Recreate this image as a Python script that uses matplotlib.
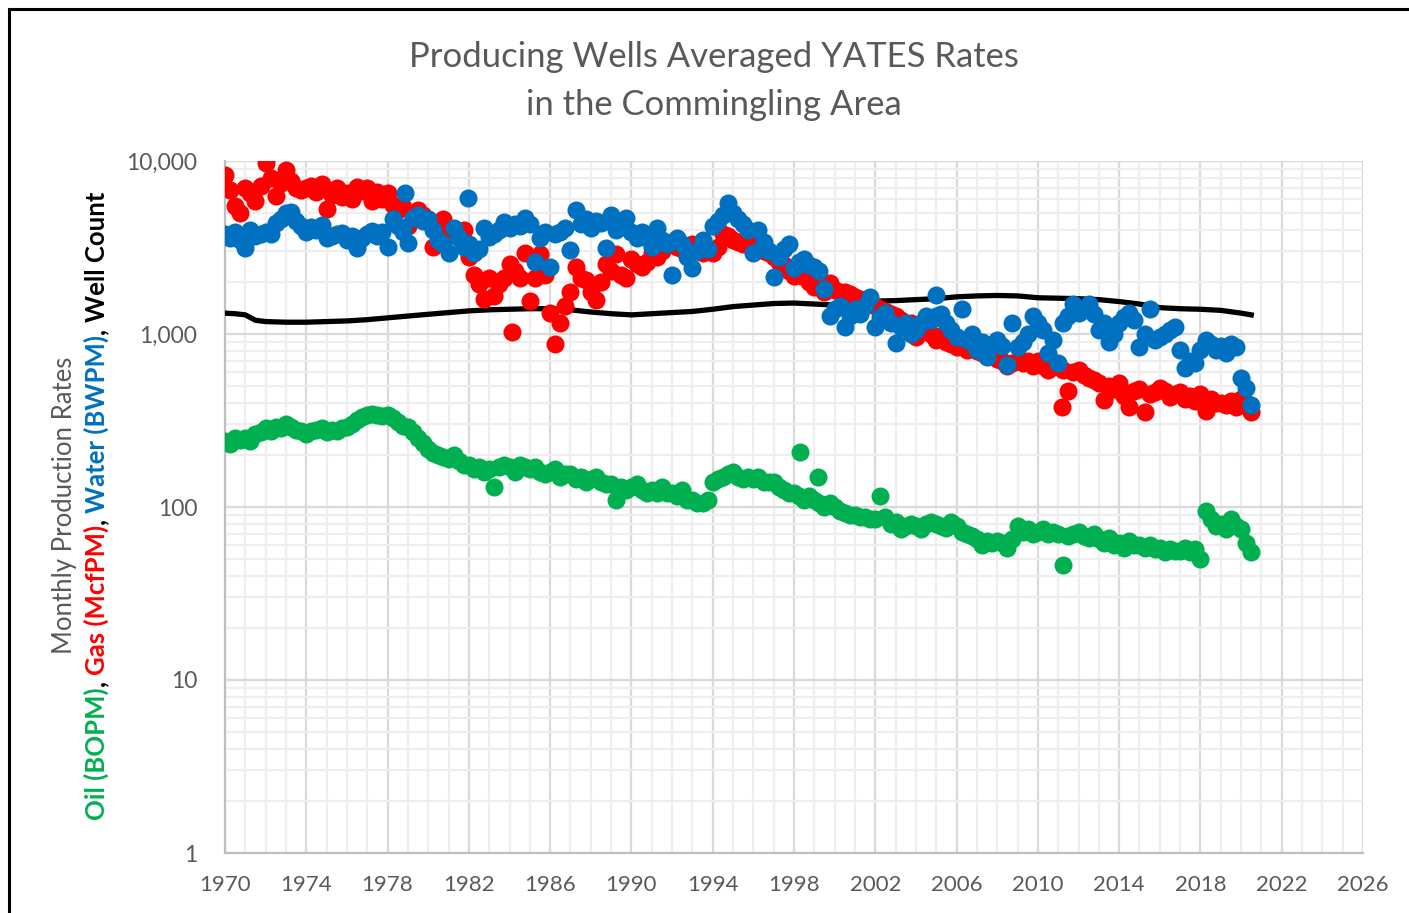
import numpy as np
import matplotlib.pyplot as plt
import matplotlib as mpl
from matplotlib.ticker import FixedLocator, FuncFormatter
from matplotlib.lines import Line2D

params = {
    'font.family': ['Lato', 'DejaVu Sans'],
    'font.size': 15,
    'xtick.labelsize': 16,
    'ytick.labelsize': 16.5,
    'figure.figsize': [14.09, 9.13],
    'figure.dpi': 100,
}
mpl.rcParams.update(params)

GRAY = '#595959'
C_OIL = '#00B050'
C_GAS = '#FF0000'
C_WATER = '#0070C0'

# quarterly sample dates (1970.0 ... 2020.5)
quarters = np.arange(1970.0, 2020.51, 0.25)

gas = [
    8300, 6800, 5500, 5000,  7000, 6500, 5900, 7200,  9800, 8000, 6300, 7500,
    8900, 7700, 7000, 6800,  7000, 7200, 6600, 7400,  5300, 6400, 7000, 6200,
    6500, 6000, 7100, 6700,  7000, 5900, 6600, 6000,  6500, 5600, 5200, 5400,
    4200, 5000, 5200, 4900,  4600, 3200, 4100, 4600,  4100, 3900, 3800, 4000,
    2800, 2200, 1950, 1600,  2100, 1650, 1950, 2100,  2550, 2300, 2100, 2950,
    1550, 2100, 2900, 2200,  1330, 870, 1150, 1450,   1750, 2450, 2100, 2050,
    1750, 1570, 2000, 2550,  2300, 2900, 2200, 2100,  2700, 2550, 2450, 2600,
    2950, 2800, 3000, 3300,  3400, 3200, 3100, 3000,  3300, 3000, 2950, 3100,
    2950, 3200, 3800, 3700,  3500, 3400, 3300, 3300,  3200, 3100, 3000, 2950,
    2800, 2600, 2500, 2300,  2150, 2200, 2140, 2000,  1860, 1900, 1750, 1970,
    1800, 1750, 1740, 1700,  1640, 1600, 1500, 1550,  1450, 1400, 1350, 1300,
    1270, 1200, 1100, 1150,  960, 1050, 1050, 1000,   920, 980, 900, 880,
    840, 900, 810, 830,      800, 780, 760, 750,      720, 700, 650, 680,
    700, 680, 700, 650,      700, 650, 620, 680,      650, 620, 470, 600,
    620, 580, 560, 540,      520, 415, 500, 480,      520, 440, 380, 470,
    480, 355, 450, 460,      490, 470, 430, 450,      460, 420, 440, 410,
    450, 360, 420, 400,      400, 390, 410, 380,      420, 400, 355,
]

water = [
    3800, 3600, 3900, 3500,  3150, 4000, 3700, 3800,  3900, 3800, 4400, 4600,
    5000, 5100, 4500, 4200,  3900, 4150, 4000, 4250,  3600, 3700, 3800, 3850,
    3500, 3700, 3150, 3600,  3800, 3950, 3700, 3900,  3200, 4600, 4200, 3900,
    3350, 4700, 4900, 4500,  4600, 4000, 3500, 3300,  2950, 4100, 3600, 3200,
    3300, 2950, 3100, 4100,  3650, 3800, 4000, 4450,  4100, 4300, 4200, 4700,
    4300, 2620, 3600, 3900,  2450, 3800, 3900, 4100,  3060, 5200, 4300, 4600,
    4100, 4500, 4400, 3150,  4900, 4000, 4200, 4700,  3900, 3600, 3900, 3600,
    3200, 4100, 3500, 3300,  2200, 3600, 3300, 2800,  2400, 3000, 3500, 3100,
    4200, 4500, 4900, 5700,  5000, 4600, 4300, 4000,  2950, 4000, 3400, 3000,
    2140, 2800, 3100, 3300,  2400, 2600, 2700, 2500,  2450, 2300, 1830, 1270,
    1390, 1450, 1100, 1270,  1390, 1300, 1450, 1640,  1100, 1250, 1330, 1150,
    890, 1100, 1150, 1000,   1050, 1150, 1270, 1200,  1270, 1300, 1150, 1050,
    960, 1390, 920, 1000,    810, 900, 740, 880,      920, 850, 660, 1150,
    840, 900, 1000, 1270,    1150, 1050, 780, 920,    680, 1150, 1270, 1500,
    1330, 1400, 1500, 1300,  1050, 1150, 900, 1000,   1150, 1250, 1330, 1200,
    840, 1000, 1400, 920,    960, 1000, 1050, 1100,   810, 640, 700, 680,
    810, 920, 870, 810,      850, 780, 870, 840,      560, 490, 390,
]

oil = [
    240, 230, 250, 245,  250, 240, 265, 270,  285, 275, 290, 285,
    300, 290, 280, 275,  265, 275, 280, 285,  270, 280, 275, 285,
    290, 300, 320, 330,  340, 345, 340, 335,  340, 325, 310, 295,
    290, 270, 250, 235,  215, 205, 200, 195,  190, 200, 185, 175,
    175, 165, 170, 160,  165, 130, 170, 175,  170, 160, 175, 170,
    165, 170, 160, 155,  160, 165, 150, 155,  155, 145, 150, 140,
    145, 150, 140, 135,  135, 110, 130, 125,  130, 135, 125, 120,
    125, 120, 130, 120,  120, 115, 125, 110,  110, 105, 105, 110,
    140, 145, 150, 155,  160, 150, 145, 150,  145, 150, 140, 140,
    140, 130, 125, 120,  120, 115, 110, 115,  110, 105, 100, 105,
    100, 95, 92, 90,     90, 88, 87, 85,      85, 115, 88, 80,
    82, 75, 78, 80,      78, 75, 80, 82,      80, 78, 76, 82,
    78, 72, 70, 68,      65, 60, 64, 62,      64, 62, 58, 65,
    78, 72, 75, 70,      72, 75, 70, 72,      70, 46, 68, 70,
    72, 68, 66, 70,      65, 62, 66, 60,      62, 58, 64, 60,
    60, 58, 60, 57,      58, 55, 57, 56,      56, 58, 55, 57,
    50, 95, 85, 78,      80, 75, 85, 78,      75, 62, 55,
]

# odd single months that stand off the trend
gas_extra_yr = [1984.1, 2011.2]
gas_extra = [1030, 380]
water_extra_yr = [1978.85, 1981.95, 2005.0]
water_extra = [6500, 6100, 1680]
oil_extra_yr = [1998.3, 1999.2]
oil_extra = [208, 150]

well_yr = [1970, 1970.5, 1971, 1971.5, 1972, 1973, 1974, 1975, 1976, 1977, 1978,
           1979, 1980, 1981, 1982, 1983, 1984, 1985, 1986, 1987, 1988, 1989,
           1990, 1991, 1992, 1993, 1994, 1995, 1996, 1997, 1998, 1999, 2000,
           2001, 2002, 2003, 2004, 2005, 2006, 2007, 2008, 2009, 2010, 2011,
           2012, 2013, 2014, 2015, 2016, 2017, 2018, 2019, 2020, 2020.5]
well_count = [1320, 1310, 1290, 1200, 1180, 1170, 1170, 1180, 1190, 1210, 1240,
              1270, 1300, 1330, 1360, 1380, 1390, 1400, 1400, 1380, 1340, 1310,
              1290, 1310, 1330, 1350, 1390, 1440, 1470, 1500, 1510, 1490, 1470,
              1500, 1550, 1560, 1580, 1600, 1640, 1660, 1670, 1660, 1620, 1610,
              1600, 1580, 1540, 1490, 1420, 1400, 1390, 1370, 1320, 1290]

x_ticks = list(range(1970, 2027, 4))
y_ticks = [1, 10, 100, 1000, 10000]

fig = plt.figure()
ax = fig.add_axes([225 / 1409, 1 - 853 / 913, (1363 - 225) / 1409, (853 - 161) / 913])

ms = 13
ax.plot(well_yr, well_count, color='black', lw=3.8, zorder=3)
ax.plot(quarters, oil, 'o', color=C_OIL, ms=ms, mew=0, zorder=4)
ax.plot(oil_extra_yr, oil_extra, 'o', color=C_OIL, ms=ms, mew=0, zorder=4)
ax.plot(quarters, gas, 'o', color=C_GAS, ms=ms, mew=0, zorder=5)
ax.plot(gas_extra_yr, gas_extra, 'o', color=C_GAS, ms=ms, mew=0, zorder=5)
ax.plot(quarters, water, 'o', color=C_WATER, ms=ms, mew=0, zorder=6)
ax.plot(water_extra_yr, water_extra, 'o', color=C_WATER, ms=ms, mew=0, zorder=6)

ax.set_yscale('log')
ax.set_xlim(1970, 2026)
ax.set_ylim(1, 10000)
ax.xaxis.set_major_locator(FixedLocator(x_ticks))
ax.xaxis.set_minor_locator(FixedLocator(range(1970, 2027)))
ax.yaxis.set_major_locator(FixedLocator(y_ticks))
ax.yaxis.set_minor_locator(FixedLocator([m * 10 ** e for e in range(4) for m in range(2, 10)]))
ax.yaxis.set_major_formatter(FuncFormatter(lambda v, p: '{:,.0f}'.format(v)))
ax.yaxis.set_minor_formatter(FuncFormatter(lambda v, p: ''))

ax.grid(which='minor', color='#EEEEEE', lw=1.6, zorder=0)
ax.grid(which='major', color='#D9D9D9', lw=1.6, zorder=1)
ax.set_axisbelow(True)
for side in ['top', 'right']:
    ax.spines[side].set_visible(False)
for side in ['left', 'bottom']:
    ax.spines[side].set_color('#BFBFBF')
    ax.spines[side].set_linewidth(1.6)
ax.tick_params(which='both', length=0, colors=GRAY)
ax.tick_params(axis='y', pad=20)
ax.tick_params(axis='x', pad=16)

fig.text(714 / 1409, 1 - 57 / 913, 'Producing Wells Averaged YATES Rates',
         ha='center', va='center', fontsize=24.9, color=GRAY)
fig.text(714 / 1409, 1 - 105 / 913, 'in the Commingling Area',
         ha='center', va='center', fontsize=24.9, color=GRAY)

fig.text(72 / 1409, 1 - 505 / 913, 'Monthly Production Rates', rotation=90,
         rotation_mode='anchor', ha='center', va='baseline', fontsize=18.5, color=GRAY)

# multi-coloured second line of the y label, built bottom-up
pieces = [('Oil (BOPM)', C_OIL), (', ', 'black'), ('Gas (McfPM)', C_GAS),
          (', ', 'black'), ('Water (BWPM)', C_WATER), (', ', 'black'),
          ('Well Count', 'black')]
renderer = fig.canvas.get_renderer()
ypos = (913 - 820) / 913
for txt, col in pieces:
    t = fig.text(105 / 1409, ypos, txt, rotation=90, rotation_mode='anchor',
                 ha='left', va='baseline', fontsize=18.5, fontweight='bold', color=col)
    bb = t.get_window_extent(renderer)
    ypos += bb.height / fig.bbox.height

# black frame around the picture (top and left edges show)
fig.add_artist(Line2D([9 / 1409, 9 / 1409], [0, 1 - 9 / 913], color='black', lw=2.2))
fig.add_artist(Line2D([9 / 1409, 1], [1 - 9 / 913, 1 - 9 / 913], color='black', lw=2.2))

fig.savefig('out.png', dpi=100)
